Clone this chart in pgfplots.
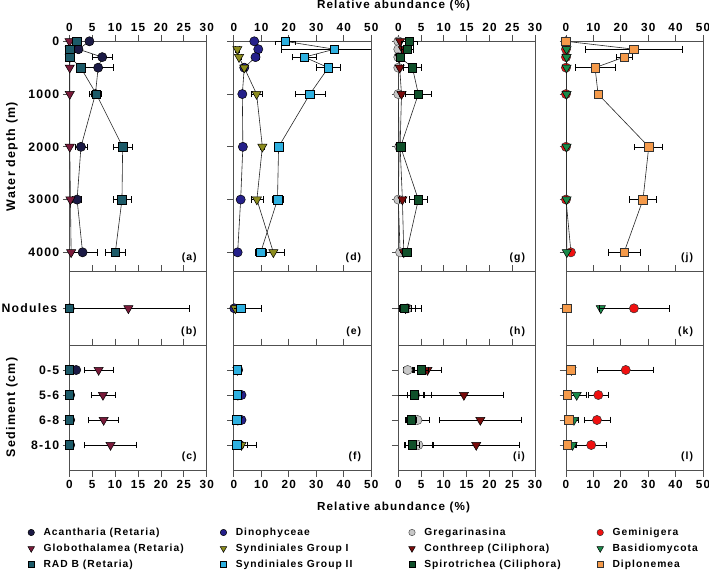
\documentclass[border=0pt]{standalone}
\usepackage{fontspec}
\setmainfont{Liberation Sans}[LetterSpace=10]
\usepackage{pgfplots}
\pgfplotsset{compat=1.18}
\definecolor{cAcan}{HTML}{1B1A45}
\definecolor{cGlob}{HTML}{7A1A3A}
\definecolor{cRadb}{HTML}{1C5A68}
\definecolor{cDino}{HTML}{25208A}
\definecolor{cSynI}{HTML}{8C8C1E}
\definecolor{cSynII}{HTML}{2EB0E0}
\definecolor{cGreg}{HTML}{C8C8C8}
\definecolor{cCont}{HTML}{7A0C0C}
\definecolor{cSpir}{HTML}{10502A}
\definecolor{cGemi}{HTML}{F01010}
\definecolor{cBasi}{HTML}{1A8A4A}
\definecolor{cDipl}{HTML}{F59A4A}
\definecolor{axg}{HTML}{505050}
\tikzset{
 mcirc/.style={mark=*, mark size=4.6bp},
 mtri/.style={mark=triangle*, mark size=5.3bp},
 msq/.style={mark=square*, mark size=4.3bp},
 acan/.style={mcirc, mark options={solid, fill=cAcan, draw=black, line width=0.5bp}},
 glob/.style={mtri, mark options={solid, rotate=180, fill=cGlob, draw=black, line width=0.5bp}},
 radb/.style={msq, mark options={solid, fill=cRadb, draw=black, line width=0.5bp}},
 dino/.style={mcirc, mark options={solid, fill=cDino, draw=black, line width=0.5bp}},
 syni/.style={mtri, mark options={solid, rotate=180, fill=cSynI, draw=black, line width=0.5bp}},
 synii/.style={msq, mark options={solid, fill=cSynII, draw=black, line width=0.5bp}},
 greg/.style={mcirc, mark options={solid, fill=cGreg, draw=black!70, line width=0.5bp}},
 cont/.style={mtri, mark options={solid, rotate=180, fill=cCont, draw=black, line width=0.5bp}},
 spir/.style={msq, mark options={solid, fill=cSpir, draw=black, line width=0.5bp}},
 gemi/.style={mcirc, mark options={solid, fill=cGemi, draw=black!80, line width=0.5bp}},
 basi/.style={mtri, mark options={solid, rotate=180, fill=cBasi, draw=black, line width=0.5bp}},
 dipl/.style={msq, mark options={solid, fill=cDipl, draw=black!80, line width=0.5bp}},
}
\pgfplotsset{
 panel/.style={scale only axis, clip mode=individual, anchor=south west,
  axis line style={draw=axg, line width=0.8bp},
  tick style={draw=axg, line width=0.8bp},
  major tick length=6.5bp, tick align=outside,
  xticklabel style={font=\bfseries\fontsize{11.8}{13}\selectfont},
  yticklabel style={font=\bfseries\fontsize{12.3}{13}\selectfont},
  /pgf/number format/assume math mode=true,
  ytick pos=left, minor tick num=0},
 c1/.style={xmin=0,xmax=30,xtick={0,5,...,30},width=137.4bp},
 c2/.style={xmin=0,xmax=50,xtick={0,10,...,50},width=137.4bp},
 c3/.style={xmin=0,xmax=30,xtick={0,5,...,30},width=136.7bp},
 c4/.style={xmin=0,xmax=50,xtick={0,10,...,50},width=137bp},
 r1/.style={height=230.4bp, ymin=0, ymax=4367, y dir=reverse, ytick={0,1000,2000,3000,4000}, yticklabels={}, xtick pos=right, xticklabel pos=right},
 r2/.style={height=73.3bp, ymin=0, ymax=2, ytick={1}, yticklabels={}, xtick pos=right, xticklabels={}},
 r3/.style={height=125bp, ymin=0, ymax=5, y dir=reverse, ytick={1,2,3,4}, yticklabels={}, xtick pos=both, xticklabel pos=left},
 prof/.style={draw=black!85, line width=0.6bp},
 pts/.style={only marks},
 eb/.style={error bars/.cd, x dir=both, x explicit,
  error bar style={line width=0.6bp, draw=black, solid},
  error mark options={rotate=90, draw=black, line width=0.6bp, mark size=3.3bp}},
 legcol/.style={hide axis, scale only axis, width=10bp, height=10bp, at={(0bp,0bp)}, anchor=south west,
  xmin=0, xmax=1, ymin=0, ymax=1, legend cell align=left,
  legend image code/.code={\draw[##1, only marks] plot coordinates {(0bp,0bp)};},
  legend style={draw=none, fill=none, inner sep=0pt, column sep=7bp, row sep=0pt, anchor=north west,
   font=\bfseries\fontsize{10.3}{12}\selectfont,
   nodes={inner xsep=2bp, inner ysep=3.5bp, text height=7bp, text depth=2bp}}},
}
\newcommand{\plab}[1]{\node[anchor=east, xshift=-6.5bp, yshift=13.5bp, font=\bfseries\fontsize{10.5}{12}\selectfont] at (rel axis cs:1,0) {#1};}
\begin{document}
\begin{tikzpicture}
\path[use as bounding box] (0,0) rectangle (709bp,571bp);
% ---------- Row 1 ----------
\begin{axis}[panel, c1, r1, at={(69.3bp,299.3bp)}, yticklabels={0,1000,2000,3000,4000}]
\addplot[prof, acan, eb] coordinates {(4.4,0) +- (0.6,0) (2.0,150) +- (0.6,0) (7.2,300) +- (2.2,0) (6.3,500) +- (3.3,0) (5.7,1000) +- (1.3,0) (2.55,2000) +- (1.3,0) (1.7,3000) +- (1.0,0) (2.9,4000) +- (3.3,0)};
\addplot[prof, glob] coordinates {(0.05,0) (0.1,150) (0.1,300) (0.1,500) (0.1,1000) (0.1,2000) (0.25,3000) (0.4,4000)};
\addplot[prof, radb, eb] coordinates {(1.6,0) +- (0.3,0) (0.15,150) +- (0,0) (0.15,300) +- (0,0) (2.5,500) +- (0.6,0) (5.9,1000) +- (1.0,0) (11.65,2000) +- (2.0,0) (11.5,3000) +- (2.0,0) (10.05,4000) +- (2.1,0)};
\plab{(a)}
\end{axis}
\begin{axis}[panel, c2, r1, at={(233.8bp,299.3bp)}]
\addplot[prof, dino, eb] coordinates {(7.45,0) +- (0.8,0) (8.9,150) +- (1.2,0) (7.9,300) +- (1.2,0) (3.8,500) +- (0.8,0) (3.1,1000) +- (0.5,0) (3.3,2000) +- (0.5,0) (2.5,3000) +- (0.5,0) (1.4,4000) +- (0.3,0)};
\addplot[prof, syni, eb] coordinates {(1.3,150) +- (0.6,0) (1.9,300) +- (0.7,0) (3.8,500) +- (0.6,0) (8.3,1000) +- (2.0,0) (10.4,2000) +- (0.8,0) (8.4,3000) +- (2.2,0) (14.4,4000) +- (3.9,0)};
\addplot[prof, synii, eb] coordinates {(18.7,0) +- (3.7,0) (36.6,150) +- (19.2,0) (25.7,300) +- (4.5,0) (34.4,500) +- (4.2,0) (27.7,1000) +- (5.5,0) (16.3,2000) +- (0.8,0) (15.9,3000) +- (2.0,0) (9.8,4000) +- (2.0,0)};
\plab{(d)}
\end{axis}
\begin{axis}[panel, c3, r1, at={(398.3bp,299.3bp)}]
\addplot[prof, greg] coordinates {(0,0) (0,150) (0,300) (0,500) (0,1000) (0.2,2000) (0,3000) (0.4,4000)};
\addplot[prof, cont, eb] coordinates {(0.4,0) +- (0,0) (1.0,150) +- (0,0) (0.3,300) +- (0,0) (0.3,500) +- (0,0) (0.7,1000) +- (0.5,0) (0.4,2000) +- (0,0) (0.9,3000) +- (0.6,0) (1.2,4000) +- (0,0)};
\addplot[prof, spir, eb] coordinates {(2.4,0) +- (1.8,0) (2.0,150) +- (1.3,0) (0.4,300) +- (0,0) (3.1,500) +- (1.9,0) (4.4,1000) +- (2.9,0) (0.5,2000) +- (0,0) (4.4,3000) +- (2.0,0) (1.8,4000) +- (0.5,0)};
\plab{(g)}
\end{axis}
\begin{axis}[panel, c4, r1, at={(566bp,299.3bp)}]
\addplot[prof, gemi] coordinates {(0,0) (0,150) (0,300) (0,500) (0,1000) (0,2000) (0,3000) (1.8,4000)};
\addplot[prof, basi] coordinates {(0,0) (0.2,150) (0.2,300) (0.2,500) (0.2,1000) (0.2,2000) (0.2,3000) (0.3,4000)};
\addplot[prof, dipl, eb] coordinates {(0,0) +- (0,0) (24.8,150) +- (17.8,0) (21.2,300) +- (2.9,0) (10.6,500) +- (7.3,0) (11.7,1000) +- (0.5,0) (30.2,2000) +- (5.1,0) (28.1,3000) +- (5.0,0) (21.2,4000) +- (5.8,0)};
\plab{(j)}
\end{axis}
% ---------- Row 2 ----------
\begin{axis}[panel, c1, r2, at={(69.3bp,226bp)}, yticklabels={Nodules}, yticklabel style={xshift=-2bp}]
\addplot[pts, acan] coordinates {(0.1,1)};
\addplot[pts, glob, eb] coordinates {(12.9,1) +- (13.4,0)};
\addplot[pts, radb] coordinates {(0,1)};
\plab{(b)}
\end{axis}
\begin{axis}[panel, c2, r2, at={(233.8bp,226bp)}]
\addplot[pts, dino] coordinates {(0.2,1)};
\addplot[pts, syni] coordinates {(0.6,1)};
\addplot[pts, synii, eb] coordinates {(2.5,1) +- (7.6,0)};
\plab{(e)}
\end{axis}
\begin{axis}[panel, c3, r2, at={(398.3bp,226bp)}]
\addplot[pts, greg, eb] coordinates {(2.0,1) +- (1.8,0)};
\addplot[pts, cont, eb] coordinates {(1.6,1) +- (3.4,0)};
\addplot[pts, spir, eb] coordinates {(1.3,1) +- (1.6,0)};
\plab{(h)}
\end{axis}
\begin{axis}[panel, c4, r2, at={(566bp,226bp)}]
\addplot[pts, dipl] coordinates {(0.2,1)};
\addplot[pts, basi] coordinates {(12.7,1)};
\addplot[pts, gemi, eb] coordinates {(24.8,1) +- (12.8,0)};
\plab{(k)}
\end{axis}
% ---------- Row 3 ----------
\begin{axis}[panel, c1, r3, at={(69.3bp,101bp)}, yticklabels={0-5,5-6,6-8,8-10}]
\addplot[pts, acan] coordinates {(1.5,1) (0.2,2) (0.2,3) (0.2,4)};
\addplot[pts, glob, eb] coordinates {(6.4,1) +- (3.1,0) (7.35,2) +- (2.65,0) (7.5,3) +- (3.3,0) (9.0,4) +- (5.7,0)};
\addplot[pts, radb] coordinates {(0,1) (0,2) (0,3) (0,4)};
\plab{(c)}
\end{axis}
\begin{axis}[panel, c2, r3, at={(233.8bp,101bp)}]
\addplot[pts, dino, eb] coordinates {(1.6,1) +- (0,0) (2.8,2) +- (0,0) (2.8,3) +- (0,0) (2.2,4) +- (2.7,0)};
\addplot[pts, syni, eb] coordinates {(1.3,1) +- (0,0) (1.5,2) +- (0,0) (1.5,3) +- (0,0) (2.8,4) +- (5.3,0)};
\addplot[pts, synii] coordinates {(1.3,1) (1.3,2) (1.0,3) (1.0,4)};
\plab{(f)}
\end{axis}
\begin{axis}[panel, c3, r3, at={(398.3bp,101bp)}]
\addplot[pts, greg, eb] coordinates {(2.05,1) +- (1.0,0) (3.7,2) +- (1.8,0) (4.2,3) +- (2.5,0) (4.4,4) +- (3.0,0)};
\addplot[pts, cont, eb] coordinates {(6.4,1) +- (3.1,0) (14.4,2) +- (8.6,0) (18.0,3) +- (9.1,0) (17.1,4) +- (9.4,0)};
\addplot[pts, spir, eb] coordinates {(5.0,1) +- (1.5,0) (3.5,2) +- (3.7,0) (2.8,3) +- (1.2,0) (3.1,4) +- (1.5,0)};
\plab{(i)}
\end{axis}
\begin{axis}[panel, c4, r3, at={(566bp,101bp)}]
\addplot[pts, gemi, eb] coordinates {(21.8,1) +- (10.2,0) (11.8,2) +- (3.6,0) (11.3,3) +- (4.7,0) (9.2,4) +- (5.5,0)};
\addplot[pts, basi, eb] coordinates {(2.0,1) +- (0,0) (3.9,2) +- (3.5,0) (2.9,3) +- (1.5,0) (2.4,4) +- (1.0,0)};
\addplot[pts, dipl] coordinates {(1.7,1) (0.5,2) (1.1,3) (0.5,4)};
\plab{(l)}
\end{axis}
% ---------- labels ----------
\node[font=\bfseries\fontsize{11.7}{14}\selectfont] at (393.5bp,565.5bp) {Relative abundance (\%)};
\node[font=\bfseries\fontsize{11.7}{14}\selectfont] at (393.5bp,63.3bp) {Relative abundance (\%)};
\node[rotate=90, font=\bfseries\fontsize{12.5}{14}\selectfont] at (12bp,414.5bp) {Water depth (m)};
\node[rotate=90, font=\bfseries\fontsize{12.5}{14}\selectfont] at (12bp,163.5bp) {Sediment (cm)};
% ---------- legend ----------
\begin{axis}[legcol, legend style={at={(2.775,4.67)}}]
\addlegendimage{acan, mark size=3.2bp}\addlegendentry{Acantharia (Retaria)}
\addlegendimage{glob, mark size=3.8bp}\addlegendentry{Globothalamea (Retaria)}
\addlegendimage{radb, mark size=3bp}\addlegendentry{RAD B (Retaria)}
\end{axis}
\begin{axis}[legcol, legend style={at={(22.0,4.67)}}]
\addlegendimage{dino, mark size=3.2bp}\addlegendentry{Dinophyceae}
\addlegendimage{syni, mark size=3.8bp}\addlegendentry{Syndiniales Group I}
\addlegendimage{synii, mark size=3bp}\addlegendentry{Syndiniales Group II}
\end{axis}
\begin{axis}[legcol, legend style={at={(40.85,4.67)}}]
\addlegendimage{greg, mark size=3.2bp}\addlegendentry{Gregarinasina}
\addlegendimage{cont, mark size=3.8bp}\addlegendentry{Conthreep (Ciliphora)}
\addlegendimage{spir, mark size=3bp}\addlegendentry{Spirotrichea (Ciliphora)}
\end{axis}
\begin{axis}[legcol, legend style={at={(59.675,4.67)}}]
\addlegendimage{gemi, mark size=3.2bp}\addlegendentry{Geminigera}
\addlegendimage{basi, mark size=3.8bp}\addlegendentry{Basidiomycota}
\addlegendimage{dipl, mark size=3bp}\addlegendentry{Diplonemea}
\end{axis}
\end{tikzpicture}
\end{document}
